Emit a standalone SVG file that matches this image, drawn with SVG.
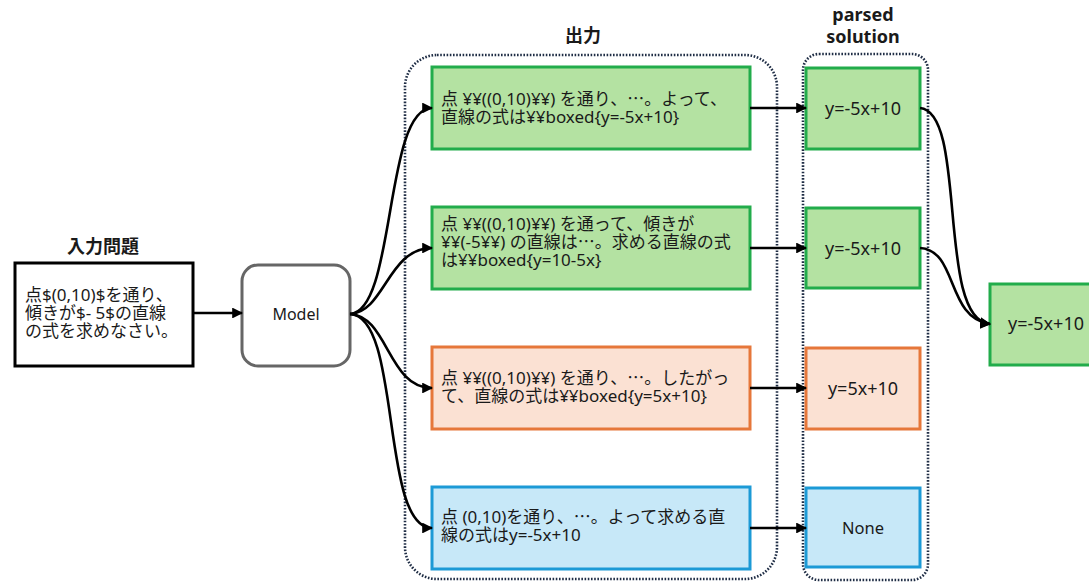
<svg xmlns="http://www.w3.org/2000/svg" width="1089" height="585" viewBox="0 0 1089 585">
  <defs>
    <marker id="arrow" viewBox="0 0 10 10" refX="9" refY="5" markerWidth="4.2" markerHeight="4.2" markerUnits="strokeWidth" orient="auto">
      <path d="M0,0 L10,5 L0,10 z" fill="#000"/>
    </marker>
    <style>
      text { font-family: "Noto Sans", "Noto Sans CJK JP", sans-serif; fill: #1a1a1a; }
      .title { font-size: 18px; font-weight: bold; text-anchor: middle; }
      .body { font-size: 17px; }
      .cjk { font-family: "Noto Sans CJK JP", sans-serif; }
      .mid { font-size: 18px; text-anchor: middle; dominant-baseline: central; }
      .group { fill: none; stroke: #1f2d45; stroke-width: 2.6; stroke-dasharray: 1.6 1.6; }
      .ok { fill: #b4e2a2; stroke: #22ac4b; stroke-width: 3; }
      .bad { fill: #fbe1d3; stroke: #e6773a; stroke-width: 3; }
      .none { fill: #c7e8f8; stroke: #1c9ad6; stroke-width: 3; }
      .link { fill: none; stroke: #000; stroke-width: 2.6; marker-end: url(#arrow); }
    </style>
  </defs>

  <rect width="1089" height="585" fill="#fff"/>

  <!-- section titles -->
  <text class="title" x="583" y="42">出力</text>
  <text class="title" x="863" y="21">parsed<tspan x="863" dy="22">solution</tspan></text>

  <!-- dotted group frames -->
  <rect class="group" x="405" y="55" width="372" height="524" rx="32"/>
  <rect class="group" x="803" y="54" width="125" height="526" rx="16"/>

  <g id="input">
    <text class="title" x="103" y="253">入力問題</text>
    <rect x="15" y="263" width="178" height="103" fill="#fff" stroke="#000" stroke-width="3"/>
    <text class="body" x="25" y="301">点$(0,10)$を通り、<tspan x="25" dy="18">傾きが$- 5$の直線</tspan><tspan x="25" dy="18">の式を求めなさい。</tspan></text>
  </g>

  <g id="model">
    <rect x="242" y="265" width="108" height="101" rx="16" fill="#fff" stroke="#666" stroke-width="3"/>
    <text class="mid" x="296" y="314" style="font-size:16px">Model</text>
  </g>

  <g id="out1">
    <rect class="ok" x="432" y="67" width="318" height="82"/>
    <text class="body" x="441" y="105">点 ¥¥((0,10)¥¥) を通り、<tspan class="cjk">…</tspan>。よって、<tspan x="441" dy="18">直線の式は¥¥boxed{y=-5x+10}</tspan></text>
  </g>

  <g id="out2">
    <rect class="ok" x="432" y="207" width="318" height="82"/>
    <text class="body" x="441" y="230">点 ¥¥((0,10)¥¥) を通って、傾きが<tspan x="441" dy="18">¥¥(-5¥¥) の直線は<tspan class="cjk">…</tspan>。求める直線の式</tspan><tspan x="441" dy="18">は¥¥boxed{y=10-5x}</tspan></text>
  </g>

  <g id="out3">
    <rect class="bad" x="432" y="347" width="318" height="82"/>
    <text class="body" x="441" y="384">点 ¥¥((0,10)¥¥) を通り、<tspan class="cjk">…</tspan>。したがっ<tspan x="441" dy="18">て、直線の式は¥¥boxed{y=5x+10}</tspan></text>
  </g>

  <g id="out4">
    <rect class="none" x="432" y="487" width="318" height="82"/>
    <text class="body" x="441" y="523">点 (0,10)を通り、<tspan class="cjk">…</tspan>。よって求める直<tspan x="441" dy="18">線の式はy=-5x+10</tspan></text>
  </g>

  <g id="sol1">
    <rect class="ok" x="806" y="68" width="114" height="81"/>
    <text class="mid" x="863" y="108">y=-5x+10</text>
  </g>
  <g id="sol2">
    <rect class="ok" x="806" y="208" width="114" height="80"/>
    <text class="mid" x="863" y="248">y=-5x+10</text>
  </g>
  <g id="sol3">
    <rect class="bad" x="806" y="348" width="114" height="81"/>
    <text class="mid" x="863" y="388">y=5x+10</text>
  </g>
  <g id="sol4">
    <rect class="none" x="806" y="488" width="114" height="79"/>
    <text class="mid" x="863" y="527" style="font-size:16.5px">None</text>
  </g>

  <g id="answer">
    <rect class="ok" x="990" y="284" width="110" height="81"/>
    <text class="mid" x="1046" y="323">y=-5x+10</text>
  </g>

  <g id="connectors">
    <path class="link" d="M193,313 L242,313"/>
    <path class="link" d="M350,314 C396,312 384,108 432,108"/>
    <path class="link" d="M350,314 C385,312 388,248 432,248"/>
    <path class="link" d="M350,314 C388,316 388,388 432,388"/>
    <path class="link" d="M350,314 C402,316 380,528 432,528"/>
    <path class="link" d="M750,108 L806,108"/>
    <path class="link" d="M750,248 L806,248"/>
    <path class="link" d="M750,388 L806,388"/>
    <path class="link" d="M750,528 L806,528"/>
    <path class="link" d="M920,108 C968,112 936,320 990,324"/>
    <path class="link" d="M920,248 C958,250 946,318 990,324"/>
  </g>
</svg>
